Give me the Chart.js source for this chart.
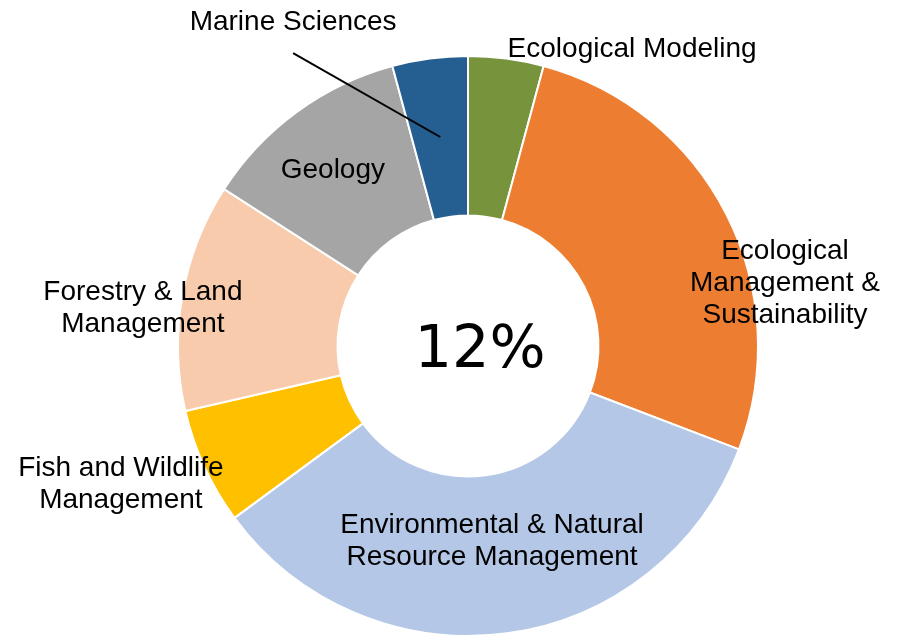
<!DOCTYPE html>
<html>
<head>
<meta charset="utf-8">
<script src="https://cdn.jsdelivr.net/npm/chart.js@4.4.1/dist/chart.umd.min.js"></script>
<style>
    html, body { margin: 0; padding: 0; background: #ffffff; }
    #wrap { width: 899px; height: 637px; }
</style>
</head>
<body>
<div id="wrap"><canvas id="majorChart" width="899" height="637"></canvas></div>
<script>
// =========================================
// Data
// =========================================

const categories = [
    ["Ecological Modeling"],
    ["Ecological", "Management &", "Sustainability"],
    ["Environmental & Natural", "Resource Management"],
    ["Fish and Wildlife", "Management"],
    ["Forestry & Land", "Management"],
    ["Geology"],
    ["Marine Sciences"]
];

const shares = [4.2, 26.6, 34.1, 6.5, 12.7, 11.7, 4.2];

const sliceColors = [
    "#77933C",
    "#ED7D31",
    "#B4C7E7",
    "#FFC000",
    "#F8CBAD",
    "#A5A5A5",
    "#255E91"
];

const centerText = "12%";

// label block centres, in units of the outer radius from the chart centre
const labelOffsets = [
    [0.566, -1.024],
    [1.093, -0.217],
    [0.083, 0.673],
    [-1.197, 0.478],
    [-1.121, -0.131],
    [-0.466, -0.607],
    [-0.603, -1.117]
];

// slices whose label needs a leader line (index -> where the line starts)
const leaderLines = { 6: [-0.603, -1.010] };


// =========================================
// Label plugin
// =========================================

const labelPlugin = {

    id: "sliceLabels",

    afterDatasetsDraw(chart) {

        const ctx = chart.ctx;
        const arcs = chart.getDatasetMeta(0).data;
        const cx = arcs[0].x;
        const cy = arcs[0].y;
        const R = arcs[0].outerRadius;

        ctx.save();

        // leader lines
        ctx.strokeStyle = "#000000";
        ctx.lineWidth = 2;
        Object.keys(leaderLines).forEach(function (k) {
            const arc = arcs[k];
            const mid = (arc.startAngle + arc.endAngle) / 2;
            const r = R * 0.727;
            ctx.beginPath();
            ctx.moveTo(cx + leaderLines[k][0] * R, cy + leaderLines[k][1] * R);
            ctx.lineTo(cx + Math.cos(mid) * r, cy + Math.sin(mid) * r);
            ctx.stroke();
        });

        // category labels
        ctx.fillStyle = "#000000";
        ctx.font = "28px 'Liberation Sans', Arial, sans-serif";
        ctx.textAlign = "center";
        ctx.textBaseline = "middle";
        const lineH = 32;

        categories.forEach(function (lines, i) {
            const x = cx + labelOffsets[i][0] * R;
            const y0 = cy + labelOffsets[i][1] * R - (lines.length - 1) * lineH / 2;
            lines.forEach(function (line, j) {
                ctx.fillText(line, x, y0 + j * lineH);
            });
        });

        // centre text
        ctx.font = "59px 'DejaVu Sans', Verdana, sans-serif";
        ctx.fillText(centerText, cx + 12, cy + 6);

        ctx.restore();
    }
};


// =========================================
// Doughnut
// =========================================

const majorCanvas =
    document.getElementById("majorChart");

if (majorCanvas) {

    new Chart(majorCanvas, {

        type: "doughnut",

        data: {

            labels: categories.map(function (c) { return c.join(" "); }),

            datasets: [{

                data: shares,

                backgroundColor: sliceColors,

                borderColor: "#ffffff",

                borderWidth: 2
            }]
        },

        options: {

            responsive: false,

            animation: false,

            cutout: "45%",

            layout: {
                padding: { top: 55, bottom: 0, left: 177, right: 140 }
            },

            plugins: {

                legend: { display: false },

                tooltip: { enabled: false }
            }
        },

        plugins: [labelPlugin]
    });
}
</script>
</body>
</html>
